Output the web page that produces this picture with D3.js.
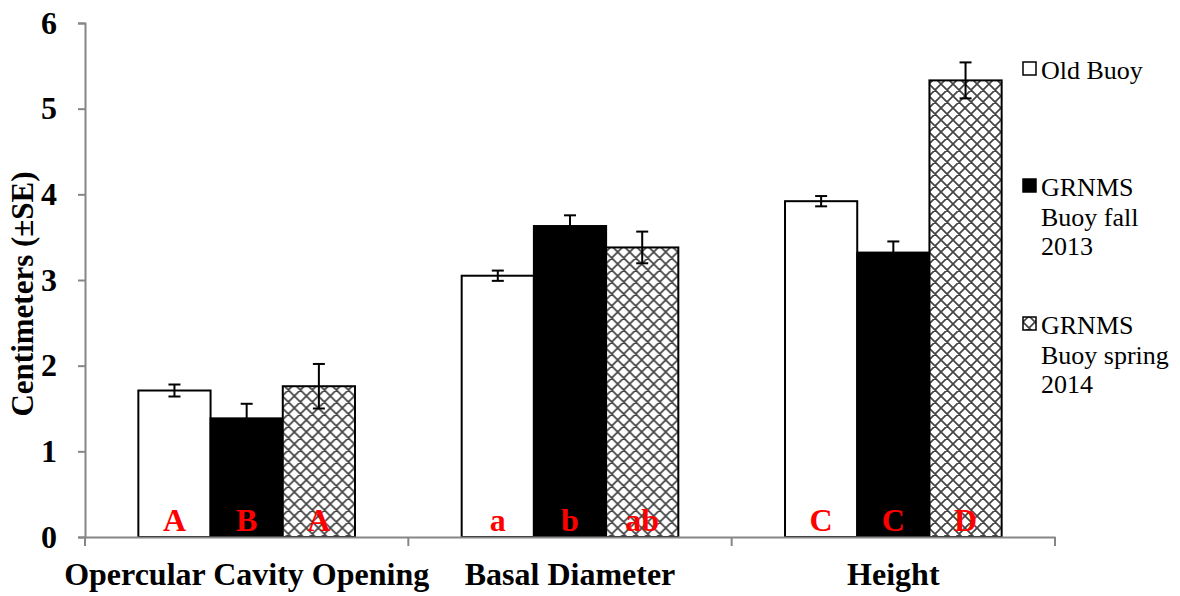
<!DOCTYPE html>
<html>
<head>
<meta charset="utf-8">
<script src="https://cdn.jsdelivr.net/npm/d3@7"></script>
<style>
  body { margin: 0; background: #fff; }
  svg { display: block; }
</style>
</head>
<body>
<svg id="chart"></svg>
<script>
// data
const categories = ["Opercular Cavity Opening", "Basal Diameter", "Height"];
const seriesNames = ["Old Buoy", "GRNMS Buoy fall 2013", "GRNMS Buoy spring 2014"];
const oldBuoy = [1.71, 3.05, 3.92];
const oldBuoySE = [0.07, 0.06, 0.06];
const fall2013 = [1.385, 3.63, 3.32];
const fall2013SE = [0.17, 0.125, 0.13];
const spring2014 = [1.76, 3.38, 5.33];
const spring2014SE = [0.26, 0.185, 0.21];
const letters = [["A", "B", "A"], ["a", "b", "ab"], ["C", "C", "D"]];
const yTicks = [0, 1, 2, 3, 4, 5, 6];
const legendLines = [["Old Buoy"], ["GRNMS", "Buoy fall", "2013"], ["GRNMS", "Buoy spring", "2014"]];

const width = 1180, height = 596;
const margin = {top: 23, right: 125, bottom: 59, left: 85};
const serif = "'Liberation Serif', 'Times New Roman', serif";

const svg = d3.select("#chart")
    .attr("width", width)
    .attr("height", height)
    .attr("viewBox", [0, 0, width, height]);

// crosshatch pattern
const defs = svg.append("defs");
const pat = defs.append("pattern")
    .attr("id", "hatch")
    .attr("patternUnits", "userSpaceOnUse")
    .attr("width", 12).attr("height", 12);
pat.append("rect").attr("width", 12).attr("height", 12).attr("fill", "#fff");
pat.append("path")
    .attr("d", "M0,0L12,12M12,0L0,12M-1,11L1,13M11,-1L13,1M-1,1L1,-1M11,13L13,11")
    .attr("stroke", "#444")
    .attr("stroke-width", 1.7);

const data = categories.map((c, i) => ({
    cat: c,
    vals: [
        {s: 0, v: oldBuoy[i], se: oldBuoySE[i], lab: letters[i][0]},
        {s: 1, v: fall2013[i], se: fall2013SE[i], lab: letters[i][1]},
        {s: 2, v: spring2014[i], se: spring2014SE[i], lab: letters[i][2]}
    ]
}));

const x0 = d3.scaleBand()
    .domain(categories)
    .range([margin.left, width - margin.right])
    .paddingInner(0)
    .paddingOuter(0);

const inner = x0.bandwidth() * 0.67;
const x1 = d3.scaleBand()
    .domain([0, 1, 2])
    .range([0, inner]);

const y = d3.scaleLinear()
    .domain([0, 6])
    .range([height - margin.bottom, margin.top]);

const fills = ["#fff", "#000", "url(#hatch)"];

// axes
const yAxis = svg.append("g")
    .attr("transform", `translate(${margin.left},0)`)
    .call(d3.axisLeft(y).tickValues(yTicks).tickSize(7).tickPadding(21).tickFormat(d3.format("d")));
yAxis.selectAll("line, path").attr("stroke", "#868686").attr("stroke-width", 2);
yAxis.selectAll("text")
    .style("font-family", serif)
    .style("font-size", "32px")
    .style("font-weight", "bold")
    .attr("fill", "#000");

// bars
const groups = svg.append("g")
    .selectAll("g")
    .data(data)
    .join("g")
    .attr("transform", d => `translate(${x0(d.cat) + (x0.bandwidth() - inner) / 2},0)`);

groups.selectAll("rect")
    .data(d => d.vals)
    .join("rect")
    .attr("x", d => x1(d.s))
    .attr("y", d => y(d.v))
    .attr("width", x1.bandwidth())
    .attr("height", d => y(0) - y(d.v))
    .attr("fill", d => fills[d.s])
    .attr("stroke", "#000")
    .attr("stroke-width", 2);

// error bars
const err = groups.selectAll("g.err")
    .data(d => d.vals)
    .join("g")
    .attr("class", "err")
    .attr("stroke", "#000")
    .attr("stroke-width", 2);
err.append("line")
    .attr("x1", d => x1(d.s) + x1.bandwidth() / 2)
    .attr("x2", d => x1(d.s) + x1.bandwidth() / 2)
    .attr("y1", d => y(d.v + d.se))
    .attr("y2", d => d.s === 1 ? y(d.v) : y(d.v - d.se));
err.append("line")
    .attr("x1", d => x1(d.s) + x1.bandwidth() / 2 - 6)
    .attr("x2", d => x1(d.s) + x1.bandwidth() / 2 + 6)
    .attr("y1", d => y(d.v + d.se))
    .attr("y2", d => y(d.v + d.se));
err.filter(d => d.s !== 1).append("line")
    .attr("x1", d => x1(d.s) + x1.bandwidth() / 2 - 6)
    .attr("x2", d => x1(d.s) + x1.bandwidth() / 2 + 6)
    .attr("y1", d => y(d.v - d.se))
    .attr("y2", d => y(d.v - d.se));

// significance letters
groups.selectAll("text.sig")
    .data(d => d.vals)
    .join("text")
    .attr("class", "sig")
    .attr("x", d => x1(d.s) + x1.bandwidth() / 2)
    .attr("y", y(0) - 6)
    .attr("text-anchor", "middle")
    .attr("fill", "#ff0000")
    .style("font-family", serif)
    .style("font-size", "32px")
    .style("font-weight", "bold")
    .text(d => d.lab);

// x axis on top of bars
const xAxis = svg.append("g")
    .attr("transform", `translate(0,${y(0)})`)
    .call(d3.axisBottom(x0).tickSize(0).tickFormat(""));
xAxis.select(".domain").attr("stroke", "#868686").attr("stroke-width", 2);
const bounds = categories.map(c => x0(c)).concat([x0.range()[1]]);
xAxis.selectAll("line.sep")
    .data(bounds)
    .join("line")
    .attr("class", "sep")
    .attr("x1", d => d).attr("x2", d => d)
    .attr("y1", 0).attr("y2", 9)
    .attr("stroke", "#868686")
    .attr("stroke-width", 2);
xAxis.selectAll("text.cat")
    .data(categories)
    .join("text")
    .attr("class", "cat")
    .attr("x", d => x0(d) + x0.bandwidth() / 2)
    .attr("y", 48)
    .attr("text-anchor", "middle")
    .attr("fill", "#000")
    .style("font-family", serif)
    .style("font-size", "32px")
    .style("font-weight", "bold")
    .text(d => d);

// y title
svg.append("text")
    .attr("transform", `translate(33,${(y(0) + y(6)) / 2 + 14}) rotate(-90)`)
    .attr("text-anchor", "middle")
    .style("font-family", serif)
    .style("font-size", "31px")
    .style("font-weight", "bold")
    .text("Centimeters (\u00B1SE)");

// legend
const legendY = [79, 196, 334];
const leg = svg.append("g")
    .selectAll("g")
    .data(seriesNames)
    .join("g")
    .attr("transform", (d, i) => `translate(1023,${legendY[i]})`);
leg.append("rect")
    .attr("x", 0).attr("y", -17)
    .attr("width", 13).attr("height", 13)
    .attr("fill", (d, i) => fills[i])
    .attr("stroke", "#000")
    .attr("stroke-width", 1.5);
leg.append("text")
    .style("font-family", serif)
    .style("font-size", "26px")
    .selectAll("tspan")
    .data((d, i) => legendLines[i])
    .join("tspan")
    .attr("x", 18)
    .attr("y", (d, j) => j * 29.5)
    .text(d => d);
</script>
</body>
</html>
